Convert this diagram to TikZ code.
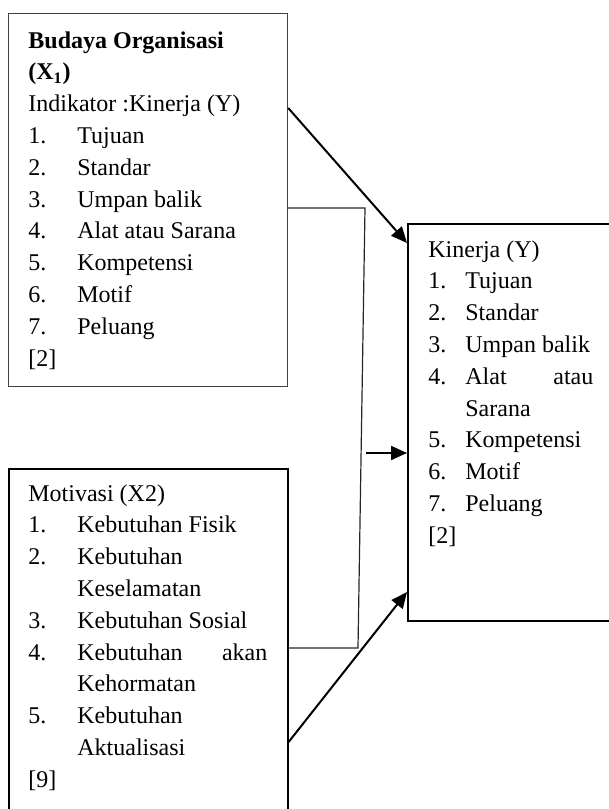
\documentclass[tikz,border=0pt]{standalone}
\usepackage{fontspec}
\setmainfont{Liberation Serif}
\usepackage{xcolor}
\usetikzlibrary{arrows.meta, positioning, calc}
\definecolor{DiagBlack}{RGB}{0, 0, 0}
\definecolor{DiagGrey}{RGB}{64, 64, 64}
\newcommand{\numitem}[3][24.5pt]{\makebox[#1][l]{#2}#3}

\tikzset{
  varbox/.style={draw=DiagBlack, rectangle, anchor=north west, inner sep=0pt, line width=0.8pt},
  listtext/.style={anchor=north west, inner sep=0pt, align=left, font=\fontsize{12}{15.9}\selectfont},
  arrowline/.style={draw=DiagBlack, line width=1pt, -{Triangle[length=8pt,width=7pt]}},
  joinline/.style={draw=DiagBlack!85, line width=0.6pt}
}

\begin{document}
\begin{tikzpicture}[x=0.5pt, y=-0.5pt]
  \clip (0,0) rectangle (609,809);

  % boxes
  \node[varbox, draw=DiagGrey, line width=0.6pt, minimum width=139.5pt, minimum height=186.5pt] (budaya) at (8,13) {};
  \node[varbox, minimum width=139.5pt, minimum height=181pt] (motivasi) at (8,468) {};
  \node[varbox, minimum width=106.5pt, minimum height=198.5pt] (kinerja) at (407,223) {};

  % box texts
  \node[listtext] (budayatext) at ($(budaya.north west)+(20,18)$) {%
    {\bfseries Budaya Organisasi}\\
    {\bfseries (X\textsubscript{1})}\\
    Indikator :Kinerja (Y)\\
    \numitem{1.}{Tujuan}\\
    \numitem{2.}{Standar}\\
    \numitem{3.}{Umpan balik}\\
    \numitem{4.}{Alat atau Sarana}\\
    \numitem{5.}{Kompetensi}\\
    \numitem{6.}{Motif}\\
    \numitem{7.}{Peluang}\\
    {[2]}};
  \node[listtext] (motivasitext) at ($(motivasi.north west)+(20,16)$) {%
    Motivasi (X2)\\
    \numitem{1.}{Kebutuhan Fisik}\\
    \numitem{2.}{Kebutuhan}\\
    \hspace*{24.5pt}Keselamatan\\
    \numitem{3.}{Kebutuhan Sosial}\\
    \numitem{4.}{\makebox[95pt][s]{Kebutuhan akan}}\\
    \hspace*{24.5pt}Kehormatan\\
    \numitem{5.}{Kebutuhan}\\
    \hspace*{24.5pt}Aktualisasi\\
    {[9]}};
  \node[listtext] (kinerjatext) at ($(kinerja.north west)+(21,17)$) {%
    Kinerja (Y)\\
    \numitem[18.5pt]{1.}{Tujuan}\\
    \numitem[18.5pt]{2.}{Standar}\\
    \numitem[18.5pt]{3.}{Umpan balik}\\
    \numitem[18.5pt]{4.}{\makebox[64pt][s]{Alat atau}}\\
    \hspace*{18.5pt}Sarana\\
    \numitem[18.5pt]{5.}{Kompetensi}\\
    \numitem[18.5pt]{6.}{Motif}\\
    \numitem[18.5pt]{7.}{Peluang}\\
    {[2]}};

  % joining line between the two variables
  \coordinate (jointop) at (365,208);
  \coordinate (joinbottom) at (358,648);
  \coordinate (jointip) at (366,453);
  \draw[joinline] ($(budaya.north east)+(0,195)$) -- (jointop) -- (joinbottom)
    -- ($(motivasi.north east)+(0,180)$);

  % arrows
  \draw[arrowline] ($(budaya.north east)+(0,95)$) -- ($(kinerja.north west)+(0,20)$);
  \draw[arrowline] (jointip) -- (jointip -| kinerja.west);
  \draw[arrowline] ($(motivasi.north east)+(0,274)$) -- ($(kinerja.north west)+(0,369)$);
\end{tikzpicture}
\end{document}
